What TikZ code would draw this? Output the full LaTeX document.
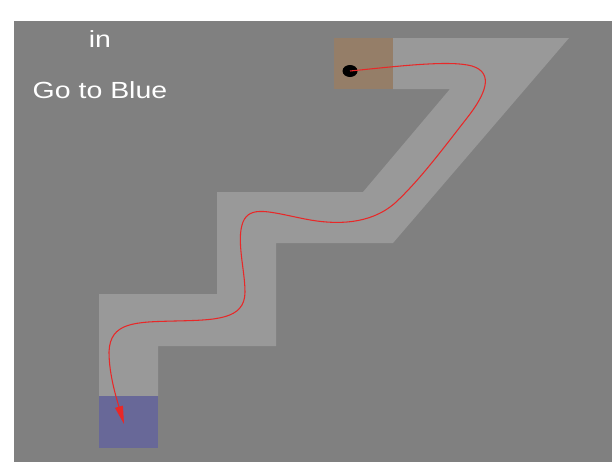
\documentclass[tikz,border=0pt]{standalone}
\usepackage{fontspec}
\setmainfont{Liberation Sans}
\usetikzlibrary{arrows.meta,shapes.geometric}
\definecolor{bggray}{RGB}{128,128,128}
\definecolor{pathgray}{RGB}{153,153,153}
\definecolor{startbrown}{RGB}{149,126,104}
\definecolor{goalblue}{RGB}{104,104,152}
\definecolor{traj}{RGB}{232,40,40}
\tikzset{
  label/.style={text=white, font=\fontsize{17.5}{20}\selectfont, anchor=base, inner sep=0pt},
  agent/.style={fill=black, ellipse, inner sep=0pt, minimum width=11.25pt, minimum height=9pt},
  trajline/.style={draw=traj, line width=0.8pt, -{Triangle[length=13.5pt,width=6pt]}},
}
\begin{document}
\begin{tikzpicture}[x=0.75pt,y=-0.75pt]
\useasboundingbox (0,0) rectangle (612,462);
\fill[white] (0,0) rectangle (612,462);
\fill[bggray] (14,21) rectangle (612,462);
% corridor
\fill[pathgray] (99,396) -- (99,294) -- (217,294) -- (217,192) -- (363,192) -- (450,89)
  -- (393,89) -- (393,38) -- (569,38) -- (393,243) -- (276,243) -- (276,346)
  -- (158,346) -- (158,396) -- cycle;
% start and goal
\fill[startbrown] (334,38) rectangle (393,89);
\fill[goalblue] (99,396) rectangle (158,448);
% texts
\node[label] (in) at (100,47) {\scalebox{1.22}[1]{in}};
\node[label] (goal) at (100,98) {\scalebox{1.22}[1]{Go to Blue}};
% agent
\node[agent] (agentc) at (350,71) {};
\coordinate (tip) at (124,424);
\draw[trajline] (agentc.center) .. controls (400,66) and (450,60) .. (472,66)
  .. controls (495,73) and (485,95) .. (467,118)
  .. controls (445,146) and (420,180) .. (395,203)
  .. controls (370,225) and (335,225) .. (305,219)
  .. controls (270,212) and (250,205) .. (243,222)
  .. controls (236,240) and (245,270) .. (245,292)
  .. controls (245,320) and (215,320) .. (175,321)
  .. controls (135,322) and (110,322) .. (109,352)
  .. controls (109,375) and (117,400) .. (tip);
\end{tikzpicture}
\end{document}
